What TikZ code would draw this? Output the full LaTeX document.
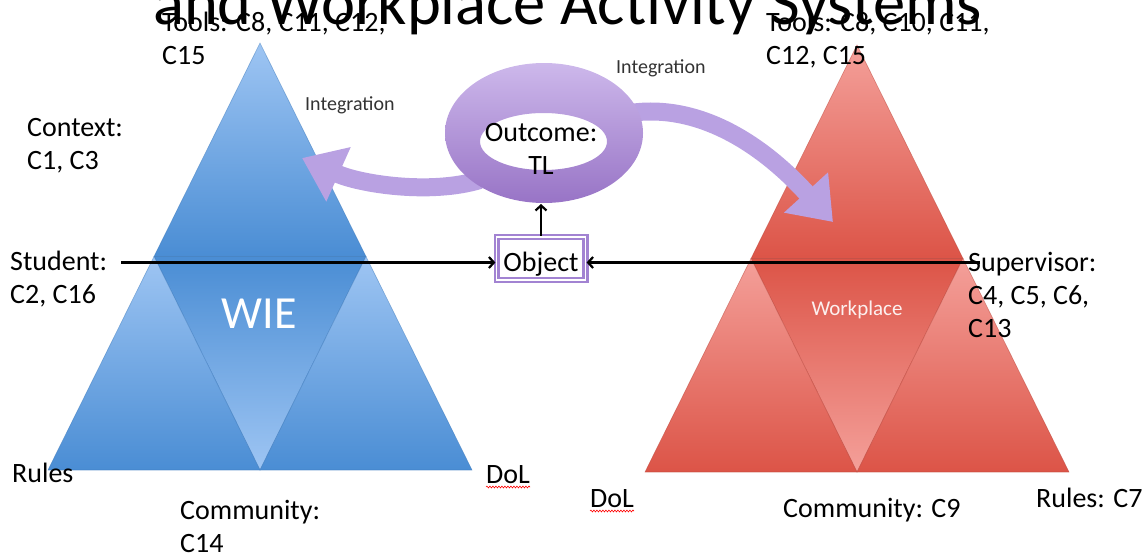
\documentclass[tikz,border=0pt]{standalone}
\usepackage{fontspec}
\setmainfont{Carlito}
\usepackage{tikz}
\usetikzlibrary{arrows.meta,calc,decorations.pathmorphing}
\definecolor{bluelight}{HTML}{9EC5F3}
\definecolor{bluemid}{HTML}{4A8DD4}
\definecolor{blueedge}{HTML}{3B78BA}
\definecolor{redlight}{HTML}{F4A09A}
\definecolor{redmid}{HTML}{DC5447}
\definecolor{rededge}{HTML}{B9453A}
\definecolor{ringtop}{HTML}{CDB8EB}
\definecolor{ringbot}{HTML}{9874C6}
\definecolor{fatpurple}{HTML}{B9A1E2}
\definecolor{boxpurple}{HTML}{A283D2}
\tikzset{
  lbl/.style={inner sep=0pt, font=\fontsize{28}{33}\selectfont, align=left, anchor=north west},
  lblone/.style={inner sep=0pt, font=\fontsize{28}{33}\selectfont, anchor=base west},
  small/.style={inner sep=0pt, font=\fontsize{20}{24}\selectfont, text=black!80, anchor=base west},
  flow/.style={-{Straight Barb[length=5pt,width=11pt]}, line width=2.2pt},
  fat/.style={line width=18pt, fatpurple, -{Triangle[length=40pt,width=57pt]}},
  spell/.style={red, line width=0.6pt, decorate, decoration={snake, amplitude=0.9pt, segment length=3pt}},
  objbox/.style={draw=boxpurple, line width=2.4pt, double=white, double distance=1.4pt, fill=white,
    minimum width=88.8pt, minimum height=42.8pt, inner sep=0pt, text height=26pt, text depth=0pt,
    font=\fontsize{28}{33}\selectfont}
}

\begin{document}
\begin{tikzpicture}[x=1pt,y=-1pt]
    \useasboundingbox (0,0) rectangle (1145,557);

    % the two activity triangles
    \foreach \ax/\ay/\by/\light/\mid/\edge in {260/43/470/bluelight/bluemid/blueedge, 857/45/472/redlight/redmid/rededge}{
        \coordinate (A) at (\ax,\ay);
        \coordinate (L) at (\ax-212,\by);
        \coordinate (R) at (\ax+212,\by);
        \coordinate (ML) at ($(A)!0.5!(L)$);
        \coordinate (MR) at ($(A)!0.5!(R)$);
        \coordinate (MB) at ($(L)!0.5!(R)$);
        \shadedraw[top color=\light, bottom color=\mid, draw=\edge, draw opacity=0.5, line width=0.6pt] (A) -- (ML) -- (MR) -- cycle;
        \shadedraw[top color=\mid, bottom color=\light, draw=\edge, draw opacity=0.5, line width=0.6pt] (ML) -- (MR) -- (MB) -- cycle;
        \shadedraw[top color=\light, bottom color=\mid, draw=\edge, draw opacity=0.5, line width=0.6pt] (ML) -- (L) -- (MB) -- cycle;
        \shadedraw[top color=\light, bottom color=\mid, draw=\edge, draw opacity=0.5, line width=0.6pt] (MR) -- (MB) -- (R) -- cycle;
    }

    % integration arrows
    \draw[fat] (480,180) .. controls (430,195) and (360,184) .. (302,158);
    \draw[fat] (630,113) .. controls (720,100) and (790,175) .. (833,222);

    % outcome ring
    \shade[top color=ringtop, bottom color=ringbot, even odd rule]
        (544,133) ellipse [x radius=99pt, y radius=70pt]
        (543.5,141.5) ellipse [x radius=63.5pt, y radius=28.5pt];
    \coordinate (ringS) at (541,204);
    \node[lbl, align=center, anchor=north] (outcome) at (541,123) {Outcome:\\TL};

    % object
    \node[objbox] (object) at (541,258.5) {Object};
    \coordinate (axis) at ([yshift=-4pt]object.west);
    \draw[flow] (object.north) -- (ringS);

    % left side
    \node[lbl] (toolsL) at (162,12) {Tools: C8, C11, C12,\\C15};
    \node[lbl] (context) at (27,118) {Context:\\C1, C3};
    \node[lbl] (student) at (10,251) {Student:\\C2, C16};
    \node[lblone] (rulesL) at (12,482) {Rules};
    \node[lblone] (dolL) at (486,483) {DoL};
    \node[lbl] (communityL) at (180,500) {Community:\\C14};
    \node[inner sep=0pt, anchor=base, text=white, font=\fontsize{46}{50}\selectfont] (wie) at (259,328) {WIE};
    \node[small] (integrL) at (305,110) {Integration};
    \draw[spell] ([yshift=-4pt]dolL.base west) -- ([yshift=-4pt]dolL.base east);

    % right side
    \node[lbl] (toolsR) at (766,12) {Tools: C8, C10, C11,\\C12, C15};
    \node[lbl] (supervisor) at (968,252) {Supervisor:\\C4, C5, C6,\\C13};
    \node[inner sep=0pt, anchor=base, text=white, text opacity=0.9, font=\fontsize{21}{24}\selectfont] (workplace) at (857,315) {Workplace};
    \node[lblone] (dolR) at (590,507) {DoL};
    \node[lblone] (communityR) at (783,517) {Community: C9};
    \node[lblone] (rulesR) at (1036,507) {Rules: C7};
    \node[small] (integrR) at (616,73) {Integration};
    \draw[spell] ([yshift=-4pt]dolR.base west) -- ([yshift=-4pt]dolR.base east);

    % subjects to object
    \draw[flow, shorten <=14pt] (student.east |- axis) -- (axis);
    \draw[flow, shorten <=-12pt] (supervisor.west |- axis) -- (object.east |- axis);

    % title, cut by the top edge
    \node[inner sep=0pt, anchor=base west, font=\fontsize{64.5}{70}\selectfont] (title) at (153,24) {and Workplace Activity Systems};
\end{tikzpicture}
\end{document}
